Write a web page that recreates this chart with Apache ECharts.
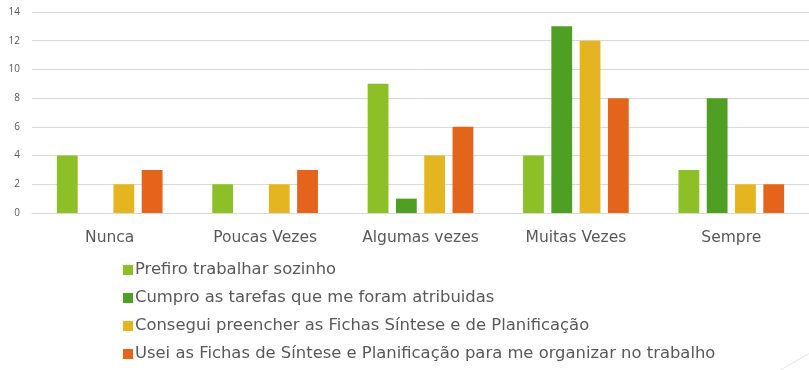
<!DOCTYPE html>
<html>
<head>
<meta charset="utf-8">
<script src="https://cdn.jsdelivr.net/npm/echarts@6/dist/echarts.min.js"></script>
<style>
  html, body { margin: 0; padding: 0; background: #ffffff; }
  #chart { width: 809px; height: 370px; }
</style>
</head>
<body>
<div id="chart"></div>
<script>
// Frequency categories on the x axis
const categories = ['Nunca', 'Poucas Vezes', 'Algumas vezes', 'Muitas Vezes', 'Sempre'];

// Series names and their counts per category
const seriesNames = [
  'Prefiro trabalhar sozinho',
  'Cumpro as tarefas que me foram atribuidas',
  'Consegui preencher as Fichas Síntese e de Planificação',
  'Usei as Fichas de Síntese e Planificação para me organizar no trabalho'
];
const prefiroSozinho = [4, 2, 9, 4, 3];
const cumproTarefas = [0, 0, 1, 13, 8];
const conseguiPreencher = [2, 2, 4, 12, 2];
const useiFichas = [3, 3, 6, 8, 2];

const yTicks = [0, 2, 4, 6, 8, 10, 12, 14];

const seriesColors = ['#8dbf26', '#4f9f24', '#e4b520', '#e5641b'];
const seriesData = [prefiroSozinho, cumproTarefas, conseguiPreencher, useiFichas];

const font = '"DejaVu Sans", sans-serif';

const chart = echarts.init(document.getElementById('chart'), null, { renderer: 'canvas' });

chart.setOption({
  animation: false,
  backgroundColor: '#ffffff',
  textStyle: { fontFamily: font },
  grid: { left: 32, top: 12, width: 785, height: 201, containLabel: false },
  xAxis: {
    type: 'category',
    data: categories,
    axisTick: { show: false },
    axisLine: { lineStyle: { color: '#d9d9d9' } },
    axisLabel: { color: '#595959', fontSize: 15.5, margin: 17, fontFamily: font }
  },
  yAxis: {
    type: 'value',
    min: yTicks[0],
    max: yTicks[yTicks.length - 1],
    interval: 2,
    axisLine: { show: false },
    axisTick: { show: false },
    splitLine: { lineStyle: { color: '#d9d9d9' } },
    axisLabel: { color: '#595959', fontSize: 10, margin: 12, fontFamily: '"Open Sans", sans-serif' }
  },
  legend: {
    orient: 'vertical',
    left: 118,
    top: 257,
    itemWidth: 10,
    itemHeight: 10,
    itemGap: 12,
    icon: 'rect',
    textStyle: { color: '#595959', fontSize: 16.4, fontFamily: font, padding: [0, 0, 0, -3] },
    data: seriesNames
  },
  series: seriesData.map((vals, i) => ({
    name: seriesNames[i],
    type: 'bar',
    data: vals,
    barGap: '36%',
    barCategoryGap: '32%',
    itemStyle: { color: seriesColors[i] }
  })),
  graphic: [{
    type: 'line',
    shape: { x1: 770, y1: 376, x2: 815, y2: 350 },
    style: { stroke: '#e6e6e6', lineWidth: 1 },
    silent: true
  }]
});
</script>
</body>
</html>
